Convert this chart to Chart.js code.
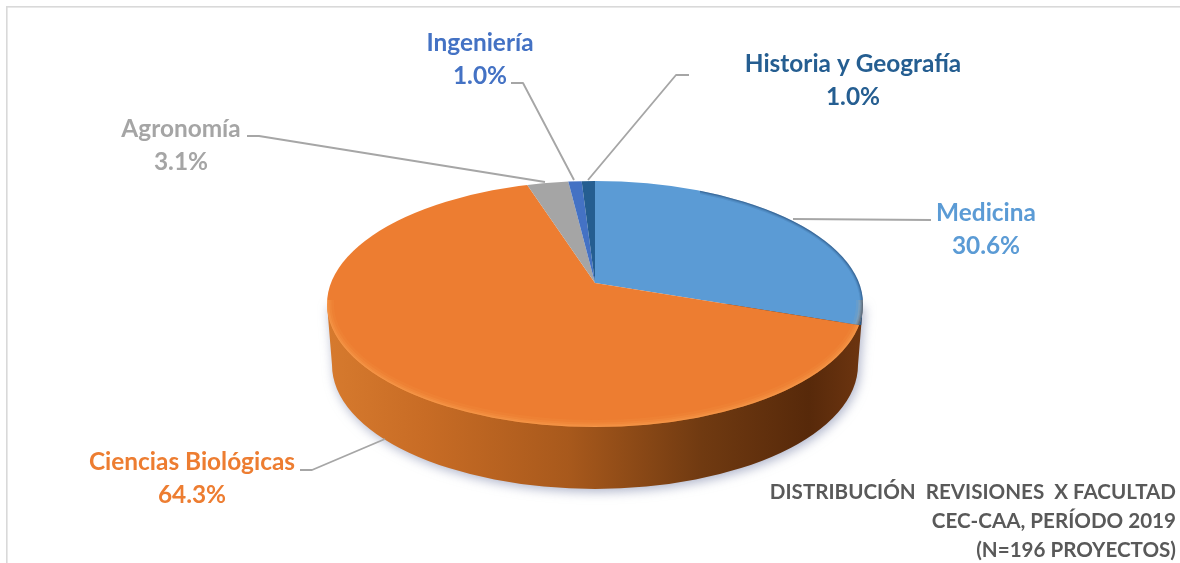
<!DOCTYPE html>
<html lang="es">
<head>
<meta charset="utf-8">
<title>Distribución revisiones por facultad</title>
<script src="https://cdn.jsdelivr.net/npm/chart.js@4"></script>
<style>
html,body{margin:0;padding:0;background:#fff;overflow:hidden}
#wrap{position:relative;width:1180px;height:563px}
canvas{display:block}
</style>
</head>
<body>
<div id="wrap"><canvas id="c" width="1180" height="563"></canvas></div>
<script>
const categories = ['Medicina','Ciencias Biológicas','Agronomía','Ingeniería','Historia y Geografía'];
const shares = [30.6,64.3,3.1,1.0,1.0];
const sliceColors = ['#5b9bd5','#ed7d31','#a5a5a5','#4472c4','#255e91'];
const titleLines = ['DISTRIBUCIÓN  REVISIONES  X FACULTAD','CEC-CAA, PERÍODO 2019','(N=196 PROYECTOS)'];
const labelAnchors = [[986,213],[192,462],[181,129],[480,43],[853,64]];
const leaderLines = [
  [[793,219],[931,220]],
  [[300,470],[312,470],[385,439]],
  [[247,136],[259,136],[545,182]],
  [[511,83],[523,83],[574,180]],
  [[689,75],[676,75],[588,180]]
];
const FONT = 'Lato, "Open Sans", sans-serif';
const face = {cx:595,cy:304,rx:268,ry:123,ax:595,ay:283,reach:347,up:0.48,down:0.435};
const rim = {cx:595,cy:365,rx:263,ry:124};

function facePath(ctx){ctx.beginPath();ctx.ellipse(face.cx,face.cy,face.rx,face.ry,0,0,Math.PI*2);}

function drawRim(ctx){
  const body=()=>{
    ctx.beginPath();
    ctx.ellipse(rim.cx,rim.cy,rim.rx,rim.ry,0,0,Math.PI);
    ctx.lineTo(face.cx-face.rx,face.cy);
    ctx.lineTo(face.cx+face.rx,face.cy);
    ctx.closePath();
  };
  ctx.save();
  ctx.shadowColor='rgba(110,120,160,.55)';
  ctx.shadowBlur=11;ctx.shadowOffsetX=2;ctx.shadowOffsetY=3;
  const g=ctx.createLinearGradient(328,0,862,0);
  g.addColorStop(0,'#d67a2e');
  g.addColorStop(.18,'#c86c25');
  g.addColorStop(.45,'#a8591c');
  g.addColorStop(.7,'#703a11');
  g.addColorStop(.9,'#57290a');
  g.addColorStop(1,'#6d3510');
  ctx.fillStyle=g;body();ctx.fill();
  ctx.restore();
  ctx.save();
  ctx.beginPath();ctx.rect(840,250,40,75);ctx.clip();
  ctx.fillStyle='#2b5f92';body();ctx.fill();
  ctx.restore();
}

function drawBevel(ctx){
  ctx.save();
  facePath(ctx);ctx.clip();
  // light front lip
  ctx.save();
  ctx.beginPath();ctx.rect(320,300,545,135);ctx.clip();
  [[14,.07],[9,.12],[5,.18],[2,.22]].forEach(([w,a])=>{
    ctx.strokeStyle='rgba(255,178,100,'+a+')';ctx.lineWidth=w;facePath(ctx);ctx.stroke();
  });
  ctx.restore();
  // dark rounded edge on the blue slice
  ctx.save();
  ctx.beginPath();ctx.rect(700,175,170,150);ctx.clip();
  [[6,.12],[4,.18],[2,.3]].forEach(([w,a])=>{
    ctx.strokeStyle='rgba(25,55,95,'+a+')';ctx.lineWidth=w;facePath(ctx);ctx.stroke();
  });
  ctx.restore();
  ctx.restore();
}

const tiltedPie = {
  id:'tiltedPie',
  beforeDraw(chart){
    const ctx=chart.ctx;
    ctx.save();
    ctx.fillStyle='#d9d9d9';
    ctx.fillRect(6,6,1174,1.6);
    ctx.fillRect(6,6,1.6,557);
    ctx.restore();
  },
  beforeDatasetDraw(chart,args){
    const ctx=chart.ctx, meta=args.meta, arc=meta.data[0];
    drawRim(ctx);
    const k=face.reach/arc.outerRadius;
    ctx.save();
    facePath(ctx);ctx.clip();
    [[0,face.ay,face.up],[face.ay,563,face.down]].forEach(([y0,y1,sq])=>{
      ctx.save();
      ctx.beginPath();ctx.rect(0,y0,1180,y1-y0);ctx.clip();
      ctx.translate(face.ax,face.ay);
      ctx.scale(k,k*sq);
      ctx.translate(-arc.x,-arc.y);
      meta.controller.draw();
      ctx.restore();
    });
    ctx.restore();
    drawBevel(ctx);
    return false;
  },
  afterDraw(chart){
    const ctx=chart.ctx;
    ctx.save();
    ctx.strokeStyle='#a6a6a6';ctx.lineWidth=1.9;ctx.lineJoin='round';
    leaderLines.forEach(pts=>{
      ctx.beginPath();
      pts.forEach((p,i)=>i?ctx.lineTo(p[0],p[1]):ctx.moveTo(p[0],p[1]));
      ctx.stroke();
    });
    ctx.textBaseline='middle';ctx.textAlign='center';
    ctx.font='bold 24.4px '+FONT;
    categories.forEach((name,i)=>{
      const [x,y]=labelAnchors[i];
      ctx.fillStyle=sliceColors[i];
      ctx.fillText(name,x,y);
      ctx.fillText(shares[i].toFixed(1)+'%',x,y+33);
    });
    ctx.textAlign='right';
    ctx.fillStyle='#595959';
    ctx.font='bold 20.6px '+FONT;
    titleLines.forEach((t,i)=>ctx.fillText(t,1176,492+i*29));
    ctx.restore();
  }
};

new Chart(document.getElementById('c'),{
  type:'pie',
  data:{labels:categories,datasets:[{data:shares,backgroundColor:sliceColors,borderWidth:0}]},
  options:{
    responsive:false,animation:false,
    plugins:{legend:{display:false},tooltip:{enabled:false},title:{display:false}},
    events:[]
  },
  plugins:[tiltedPie]
});
</script>
</body>
</html>
